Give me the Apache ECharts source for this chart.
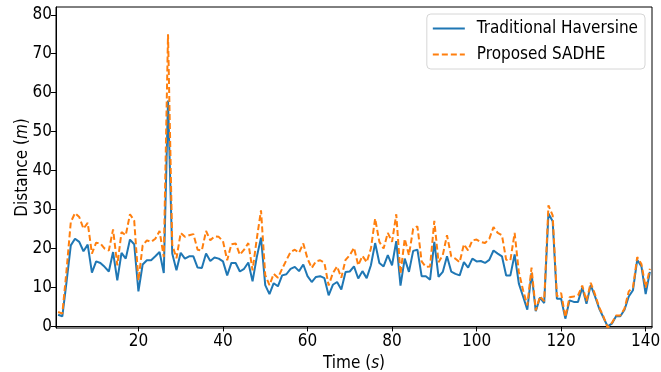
<!DOCTYPE html>
<html>
<head>
<meta charset="utf-8">
<script src="https://cdn.jsdelivr.net/npm/echarts@6/dist/echarts.min.js"></script>
<style>
  html, body { margin: 0; padding: 0; background: #fff; }
  #chart { width: 661px; height: 372px; }
</style>
</head>
<body>
<div id="chart"></div>
<script>
// time steps 1..141 (s)
var firstTime = 1
// distance error (m) per second
var haversine = [
  3.0, 2.6, 11.5, 20.8, 22.5, 21.7, 19.3, 21.0, 13.8, 16.7,
  16.3, 15.3, 14.1, 19.1, 11.8, 18.9, 17.4, 22.3, 21.1, 9.0,
  15.9, 17.0, 17.0, 18.0, 19.1, 13.7, 58.0, 18.7, 14.4, 18.9,
  17.4, 18.0, 18.0, 15.1, 15.0, 18.7, 16.8, 17.7, 17.4, 16.7,
  13.1, 16.3, 16.3, 14.1, 14.8, 16.4, 11.6, 17.8, 22.8, 10.6,
  8.3, 11.1, 10.3, 13.1, 13.4, 14.8, 15.3, 14.2, 15.9, 12.9,
  11.4, 12.7, 12.9, 12.4, 8.0, 10.7, 11.4, 9.5, 14.0, 14.1,
  15.4, 12.3, 14.2, 12.4, 15.7, 21.4, 16.3, 15.4, 18.3, 15.7,
  21.9, 10.5, 17.4, 14.0, 19.4, 19.7, 12.9, 12.9, 12.0, 21.7,
  12.7, 14.0, 18.0, 14.1, 13.5, 13.1, 16.5, 15.1, 17.4, 16.7,
  16.8, 16.3, 17.1, 19.5, 18.7, 18.0, 13.1, 13.1, 18.5, 11.0,
  7.7, 4.3, 13.7, 3.9, 7.4, 6.0, 29.0, 27.0, 7.1, 7.1,
  2.0, 6.7, 6.3, 6.3, 10.0, 5.8, 10.6, 7.8, 4.6, 2.3,
  0.0, 0.7, 2.6, 2.6, 4.3, 7.7, 9.3, 17.1, 15.4, 8.3,
  14.0
]
var sadhe = [
  3.7, 3.3, 14.5, 26.8, 29.1, 28.1, 25.1, 26.6, 18.7, 21.5,
  21.3, 20.0, 19.5, 24.9, 15.7, 24.2, 23.4, 28.8, 27.2, 11.8,
  20.8, 22.1, 21.7, 22.5, 24.5, 17.8, 75.0, 21.0, 17.5, 24.0,
  23.0, 23.4, 23.7, 19.7, 19.5, 24.5, 22.1, 23.1, 23.0, 21.9,
  17.0, 21.1, 21.3, 18.4, 19.7, 21.4, 14.4, 22.5, 29.8, 13.2,
  10.6, 13.5, 12.5, 14.8, 17.0, 19.1, 19.7, 18.9, 21.3, 17.4,
  15.0, 16.7, 17.0, 16.3, 10.5, 13.7, 15.4, 12.5, 17.1, 18.3,
  20.2, 15.7, 18.1, 16.5, 20.0, 27.7, 21.7, 20.0, 24.0, 21.7,
  28.8, 13.5, 22.5, 18.3, 25.1, 25.7, 16.7, 15.3, 15.4, 27.1,
  16.5, 18.3, 23.4, 18.0, 17.4, 16.5, 21.1, 19.5, 22.1, 22.3,
  21.7, 21.4, 22.5, 25.5, 24.0, 23.4, 17.1, 17.0, 24.0, 14.0,
  9.3, 5.4, 15.1, 4.1, 7.7, 6.5, 31.1, 28.5, 7.7, 8.6,
  2.4, 7.5, 7.7, 8.0, 10.5, 6.5, 11.2, 8.3, 4.9, 2.6,
  -0.3, 0.9, 2.8, 2.8, 4.6, 9.0, 10.0, 17.8, 16.0, 10.0,
  14.8
]
var xTicks = [20, 40, 60, 80, 100, 120, 140]
var yTicks = [0, 10, 20, 30, 40, 50, 60, 70, 80]

function toPairs (values) {
  var out = []
  for (var i = 0; i < values.length; i++) {
    out.push([firstTime + i, values[i]])
  }
  return out
}

var font = "'DejaVu Sans Condensed', 'DejaVu Sans'"
var myChart = echarts.init(document.getElementById('chart'))
var option = {
  animation: false,
  backgroundColor: '#fff',
  textStyle: { fontFamily: font },
  grid: {
    left: 56,
    right: 9,
    top: 7,
    bottom: 44,
    outerBoundsMode: 'none',
    containLabel: false,
    show: true,
    borderColor: '#000',
    borderWidth: 1
  },
  legend: {
    orient: 'vertical',
    right: 16,
    top: 14,
    itemWidth: 32,
    itemHeight: 14,
    itemGap: 9,
    padding: [6, 7, 6, 5],
    backgroundColor: '#fff',
    borderColor: '#d6d6d6',
    borderWidth: 1,
    borderRadius: 4,
    itemStyle: { opacity: 0 },
    textStyle: { fontFamily: font, fontSize: 17, color: '#000', padding: [0, 0, 0, 7] },
    data: ['Traditional Haversine', 'Proposed SADHE']
  },
  xAxis: {
    type: 'value',
    min: 0.5,
    max: 141.5,
    name: 'Time ({i|s})',
    nameLocation: 'middle',
    nameGap: 27,
    nameMoveOverlap: false,
    nameTextStyle: {
      fontFamily: font,
      fontSize: 17,
      color: '#000',
      rich: { i: { fontFamily: font, fontSize: 17, fontStyle: 'italic', color: '#000' } }
    },
    axisLine: { show: true, lineStyle: { color: '#000', width: 1 } },
    axisTick: { show: true, length: 5, customValues: xTicks, lineStyle: { color: '#000' } },
    axisLabel: { customValues: xTicks, fontFamily: font, fontSize: 17, color: '#000', margin: 5 },
    splitLine: { show: false }
  },
  yAxis: {
    type: 'value',
    min: -0.4,
    max: 82,
    name: 'Distance ({i|m})',
    nameLocation: 'middle',
    nameRotate: 90,
    nameGap: 25,
    nameMoveOverlap: false,
    nameTextStyle: {
      fontFamily: font,
      fontSize: 17,
      color: '#000',
      rich: { i: { fontFamily: font, fontSize: 17, fontStyle: 'italic', color: '#000' } }
    },
    axisLine: { show: true, lineStyle: { color: '#000', width: 1 } },
    axisTick: { show: true, length: 5, customValues: yTicks, lineStyle: { color: '#000' } },
    axisLabel: { customValues: yTicks, fontFamily: font, fontSize: 17, color: '#000', margin: 4 },
    splitLine: { show: false }
  },
  series: [
    {
      name: 'Traditional Haversine',
      type: 'line',
      symbol: 'none',
      clip: true,
      color: '#1f77b4',
      lineStyle: { color: '#1f77b4', width: 2 },
      data: toPairs(haversine)
    },
    {
      name: 'Proposed SADHE',
      type: 'line',
      symbol: 'none',
      clip: true,
      color: '#ff7f0e',
      lineStyle: { color: '#ff7f0e', width: 2, type: [6, 3] },
      data: toPairs(sadhe)
    }
  ]
}
myChart.setOption(option)
</script>
</body>
</html>
